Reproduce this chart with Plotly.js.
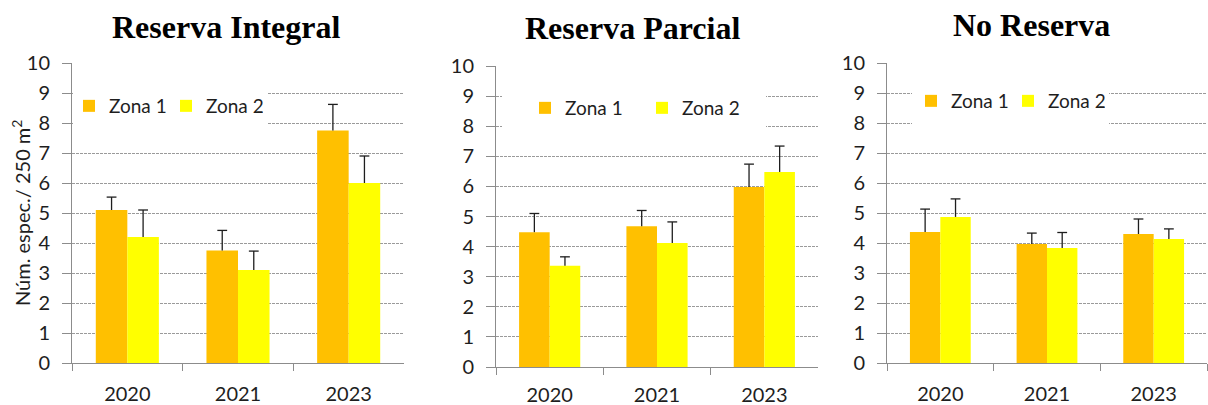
<!DOCTYPE html>
<html>
<head>
<meta charset="utf-8">
<script src="https://cdn.plot.ly/plotly-3.0.1.min.js"></script>
<style>
  html, body { margin: 0; padding: 0; background: #ffffff; }
  #chart { width: 1208px; height: 405px; }
</style>
</head>
<body>
<div id="chart"></div>
<script>
// Species counts per 250 m², by year, zone and protection level
const years = ['2020', '2021', '2023'];
const seriesNames = ['Zona 1', 'Zona 2'];
const panelTitles = ['Reserva Integral', 'Reserva Parcial', 'No Reserva'];

const integralZona1 = [5.1, 3.75, 7.75];
const integralZona1Err = [0.43, 0.67, 0.87];
const integralZona2 = [4.2, 3.1, 6.0];
const integralZona2Err = [0.9, 0.63, 0.9];

const parcialZona1 = [4.48, 4.68, 5.98];
const parcialZona1Err = [0.62, 0.52, 0.76];
const parcialZona2 = [3.36, 4.12, 6.48];
const parcialZona2Err = [0.3, 0.7, 0.86];

const noReservaZona1 = [4.37, 3.97, 4.3];
const noReservaZona1Err = [0.76, 0.36, 0.5];
const noReservaZona2 = [4.87, 3.83, 4.13];
const noReservaZona2Err = [0.6, 0.52, 0.34];

const yTickValues = [0, 1, 2, 3, 4, 5, 6, 7, 8, 9, 10];
const yAxisLabel = 'Núm. espec./ 250 m<sup>2</sup>';

// page geometry helpers (pixels -> paper fractions)
const W = 1208, H = 405;
const fx = px => px / W;
const fy = py => 1 - py / H;

const colors = ['#FFC000', '#FFFF00'];
const errColor = '#1e1e1e';
const textColor = '#1e1e1e';
const sansFont = 'Lato, "Open Sans", sans-serif';
const groups = ['zona1', 'zona2'];

const panels = [
  { z: [integralZona1, integralZona2], e: [integralZona1Err, integralZona2Err],
    xd: [72, 404], yd: [363, 63], title: [226, 27], standoff: 13,
    legend: { x: 69, y: 106, entry: 52 }, mask: [73, 268, 84, 130] },
  { z: [parcialZona1, parcialZona2], e: [parcialZona1Err, parcialZona2Err],
    xd: [496, 818], yd: [367, 66], title: [632, 28], standoff: 10,
    legend: { x: 525, y: 108, entry: 72 }, mask: [502, 766, 87, 133] },
  { z: [noReservaZona1, noReservaZona2], e: [noReservaZona1Err, noReservaZona2Err],
    xd: [887, 1207], yd: [363, 63], title: [1031, 25], standoff: 13,
    legend: { x: 911, y: 101, entry: 52 }, mask: [912, 1109, 84, 130] }
];

const traces = [];
const layout = {
  width: W, height: H,
  margin: { l: 0, r: 0, t: 0, b: 0 },
  paper_bgcolor: '#ffffff',
  plot_bgcolor: '#ffffff',
  barmode: 'group',
  bargap: 0.43,
  bargroupgap: 0,
  scattermode: 'group',
  scattergap: 0.43,
  font: { family: sansFont, size: 20, color: textColor },
  annotations: [],
  shapes: [],
  showlegend: true
};

panels.forEach((p, i) => {
  const n = i + 1;
  const xa = n === 1 ? 'x' : 'x' + n;
  const ya = n === 1 ? 'y' : 'y' + n;
  const lg = n === 1 ? 'legend' : 'legend' + n;

  // bars with the upward error stems (no caps)
  p.z.forEach((vals, s) => {
    traces.push({
      type: 'bar',
      name: seriesNames[s],
      x: years,
      y: vals,
      xaxis: xa, yaxis: ya,
      legend: lg,
      offsetgroup: groups[s],
      marker: { color: colors[s], line: { width: 0 } },
      error_y: {
        type: 'data', symmetric: false,
        array: p.e[s], arrayminus: p.e[s].map(() => 0),
        color: errColor, thickness: 1.3, width: 0
      },
      hoverinfo: 'skip'
    });
  });

  // caps on top of each error stem
  p.z.forEach((vals, s) => {
    traces.push({
      type: 'scatter',
      mode: 'markers',
      name: seriesNames[s],
      x: years,
      y: vals.map((v, k) => v + p.e[s][k]),
      xaxis: xa, yaxis: ya,
      legend: lg,
      showlegend: false,
      offsetgroup: groups[s],
      marker: { symbol: 'line-ew', size: 7, color: errColor,
                line: { color: errColor, width: 1.3 } },
      hoverinfo: 'skip'
    });
  });

  layout['xaxis' + (n === 1 ? '' : n)] = {
    domain: [fx(p.xd[0]), fx(p.xd[1])],
    anchor: ya,
    type: 'category',
    showline: true, linecolor: '#8c8c8c', linewidth: 1,
    ticks: 'outside', tickson: 'boundaries', ticklen: 7, tickcolor: '#8c8c8c',
    ticklabelstandoff: p.standoff,
    showgrid: false, zeroline: false,
    tickfont: { family: sansFont, size: 20, color: textColor },
    fixedrange: true
  };
  layout['yaxis' + (n === 1 ? '' : n)] = {
    domain: [fy(p.yd[0]), fy(p.yd[1])],
    anchor: xa,
    range: [0, 10],
    tickvals: yTickValues,
    showline: true, linecolor: '#8c8c8c', linewidth: 1,
    ticks: 'outside', ticklen: 9, tickcolor: '#8c8c8c',
    ticklabelstandoff: 8,
    showgrid: true, gridcolor: '#9a9a9a', gridwidth: 1, griddash: '3px,1px',
    zeroline: false,
    tickfont: { family: sansFont, size: 20, color: textColor },
    fixedrange: true
  };
  layout[lg] = {
    orientation: 'h',
    x: fx(p.legend.x), y: fy(p.legend.y),
    xanchor: 'left', yanchor: 'middle',
    bgcolor: 'rgba(0,0,0,0)',
    borderwidth: 0,
    itemwidth: 30,
    entrywidth: p.legend.entry, entrywidthmode: 'pixels',
    font: { family: sansFont, size: 19, color: textColor },
    itemclick: false, itemdoubleclick: false
  };

  // white backing behind the legend entries, hiding the grid there
  layout.shapes.push({
    type: 'rect', xref: 'paper', yref: 'paper', layer: 'above',
    x0: fx(p.mask[0]), x1: fx(p.mask[1]), y0: fy(p.mask[3]), y1: fy(p.mask[2]),
    fillcolor: '#ffffff', line: { width: 0 }
  });

  layout.annotations.push({
    text: '<b>' + panelTitles[i] + '</b>',
    xref: 'paper', yref: 'paper',
    x: fx(p.title[0]), y: fy(p.title[1]),
    xanchor: 'center', yanchor: 'middle',
    showarrow: false,
    font: { family: '"Liberation Serif", "Times New Roman", serif', size: 32, color: '#000000' }
  });
});

layout.annotations.push({
  text: yAxisLabel,
  xref: 'paper', yref: 'paper',
  x: fx(21), y: fy(213),
  xanchor: 'center', yanchor: 'middle',
  textangle: -90,
  showarrow: false,
  font: { family: sansFont, size: 20, color: textColor }
});

Plotly.newPlot('chart', traces, layout, { staticPlot: true, displayModeBar: false });
</script>
</body>
</html>
